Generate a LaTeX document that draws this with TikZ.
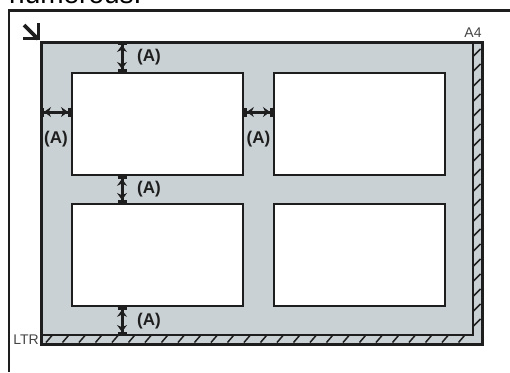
\documentclass[tikz,border=0pt]{standalone}
\usepackage{fontspec}
\setmainfont{Liberation Sans}
\usetikzlibrary{arrows.meta,calc,positioning}
\definecolor{platengrey}{HTML}{CAD1D4}
\definecolor{edgedark}{HTML}{1E1E1E}
\definecolor{labelgrey}{HTML}{444444}
\tikzset{
  frame line/.style = {edgedark, line width=2.2pt},
  platen/.style     = {draw=edgedark, fill=platengrey, line width=1.8pt,
                       inner sep=0pt, anchor=north west},
  photo/.style      = {draw=edgedark, fill=white, line width=1.8pt, inner sep=0pt,
                       minimum width=171pt, minimum height=102pt, anchor=north west},
  gap arrow/.style  = {{Bar[width=9pt]Stealth[length=7pt,width=10pt]}-{Stealth[length=7pt,width=10pt]Bar[width=9pt]},
                       edgedark, line width=3pt},
  gap label/.style  = {font=\bfseries\fontsize{17}{17}\selectfont, text=edgedark, inner sep=0pt},
  size label/.style = {font=\fontsize{14}{14}\selectfont, text=labelgrey, inner sep=0pt},
  hatch/.style      = {edgedark, line width=1.5pt},
}

\begin{document}
\begin{tikzpicture}[x=1pt, y=-1pt]
  \useasboundingbox (0,0) rectangle (510,372);
  % text line above, cut off by the page edge
  \node[anchor=base west, inner sep=0pt, font=\fontsize{28}{28}\selectfont] (caption) at (9,4) {numerous.};
  % outer frame
  \draw[frame line] (9,372) -- (9,10.5) -- (510,10.5);
  % platen with its hatched strips
  \node[platen, minimum width=440pt, minimum height=301pt] (platen) at (41,42) {};
  \draw[edgedark, line width=1.4pt] (473,42) -- (473,335) -- (41,335);
  \foreach \y in {52,67,...,335}
    \draw[hatch] (473.5,\y+4) -- (480.5,\y-3);
  \foreach \x in {46,62.5,...,470}
    \draw[hatch] (\x,342.5) -- (\x+6,335.5);
  \draw[edgedark, line width=1.8pt] (platen.north west) rectangle (platen.south east);
  % corner mark
  \draw[edgedark, line width=3.8pt] (24,25) -- (38,39);
  \draw[edgedark, line width=3.8pt, line cap=rect] (25,38.5) -- (38.5,38.5) -- (38.5,25);
  \node[size label] (a4) at (473,33) {A4};
  \node[size label] (ltr) at (26,340) {LTR};
  % photos
  \node[photo] (tl) at (71,72) {};
  \node[photo] (tr) at (273,72) {};
  \node[photo] (bl) at (71,203) {};
  \node[photo] (br) at (273,203) {};
  % margins
  \coordinate (gx) at (122,0);
  \coordinate (gy) at (0,112);
  \draw[gap arrow] (platen.north -| gx) -- (tl.north -| gx);
  \draw[gap arrow] (tl.south -| gx) -- (bl.north -| gx);
  \draw[gap arrow] (bl.south -| gx) -- (gx |- 0,335);
  \draw[gap arrow] (platen.west |- gy) -- (tl.west |- gy);
  \draw[gap arrow] (tl.east |- gy) -- (tr.west |- gy);
  \node[gap label, anchor=west] (m1) at ($(platen.north -| gx)!0.5!(tl.north -| gx) + (15,0)$) {(A)};
  \node[gap label, anchor=west] (m2) at ($(tl.south -| gx)!0.5!(bl.north -| gx) + (15,0)$) {(A)};
  \node[gap label, anchor=west] (m3) at ($(bl.south -| gx)!0.5!(gx |- 0,335) + (15,0)$) {(A)};
  \node[gap label] (m4) at ($(platen.west |- gy)!0.5!(tl.west |- gy) + (0,27)$) {(A)};
  \node[gap label] (m5) at ($(tl.east |- gy)!0.5!(tr.west |- gy) + (0,27)$) {(A)};
\end{tikzpicture}
\end{document}
